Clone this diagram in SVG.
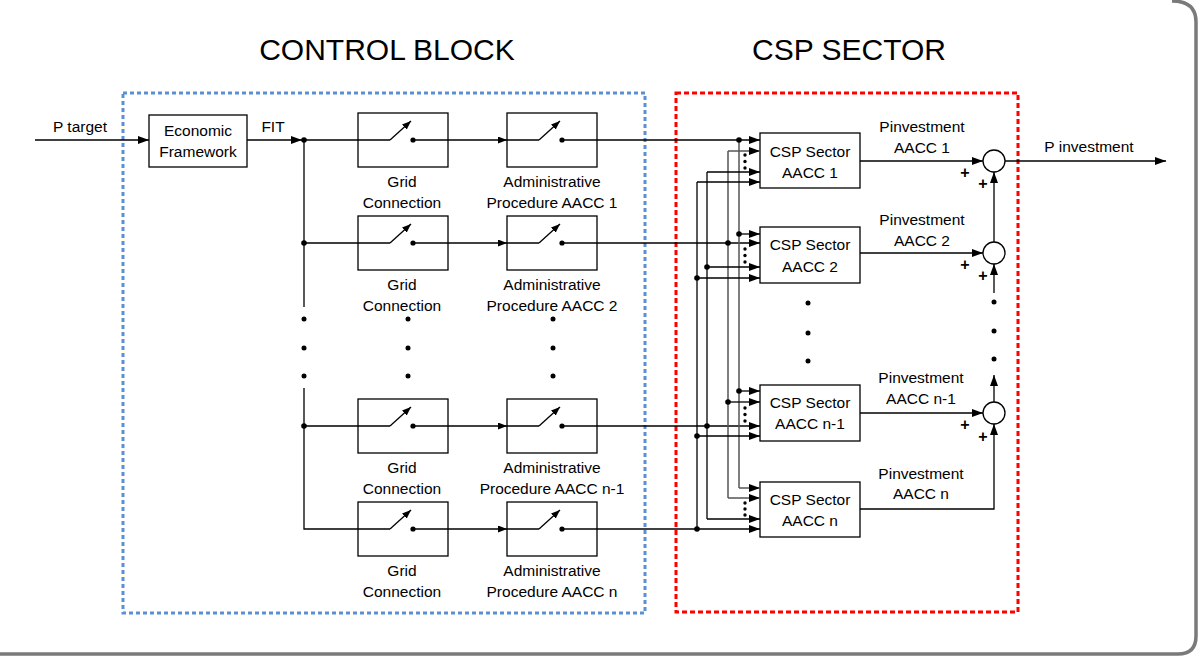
<svg xmlns="http://www.w3.org/2000/svg" width="1200" height="657" viewBox="0 0 1200 657">
<style>
.ln{stroke:#000;stroke-width:1.3;fill:none}
.gl{stroke:#555;stroke-width:1.5;fill:none}
.box{fill:#fff;stroke:#000;stroke-width:1.3}
.t{font-family:"Liberation Sans",Arial,sans-serif;font-size:15.5px;text-anchor:middle;fill:#000}
.ttl{font-family:"Liberation Sans",Arial,sans-serif;font-size:30px;text-anchor:middle;fill:#000}
.pl{font-family:"Liberation Sans",Arial,sans-serif;font-size:16px;font-weight:bold;text-anchor:middle;fill:#000}
.d{fill:#000}
</style>
<defs>
<marker id="ar" markerUnits="userSpaceOnUse" markerWidth="11" markerHeight="8" refX="11" refY="4" orient="auto"><path d="M0,0 L11,4 L0,8 z" fill="#000"/></marker>
<marker id="sa" markerUnits="userSpaceOnUse" markerWidth="9" markerHeight="7" refX="9" refY="3.5" orient="auto"><path d="M0,0 L9,3.5 L0,7 z" fill="#000"/></marker>
</defs>
<rect x="0" y="0" width="1200" height="657" fill="#fff"/>
<path d="M1172 1 Q1196 1 1196 22 V636 Q1196 654 1178 654 H0" fill="none" stroke="#7a7a7a" stroke-width="3.5"/>

<g id="titles">
<text class="ttl" x="387" y="60">CONTROL BLOCK</text>
<text class="ttl" x="849" y="60">CSP SECTOR</text>
</g>

<g id="regions">
<rect id="control-block" x="123" y="93" width="522" height="520" fill="none" stroke="#5b8fd6" stroke-width="3" stroke-dasharray="4 3"/>
<rect id="csp-sector" x="676" y="93" width="342" height="519" fill="none" stroke="#ff0000" stroke-width="3" stroke-dasharray="5 3"/>
</g>

<g id="economic-framework">
<rect class="box" x="149" y="115" width="98" height="52"/>
<text class="t" x="198" y="136">Economic</text>
<text class="t" x="198" y="157">Framework</text>
</g>

<g id="grid-1">
<rect class="box" x="358" y="113" width="90" height="54"/>
<line class="ln" x1="390" y1="140" x2="411" y2="121" marker-end="url(#sa)"/>
<circle class="d" cx="413" cy="140" r="2.6"/>
<text class="t" x="402" y="187">Grid</text><text class="t" x="402" y="208">Connection</text>
</g>
<g id="admin-1">
<rect class="box" x="507" y="113" width="90" height="54"/>
<line class="ln" x1="539" y1="140" x2="560" y2="121" marker-end="url(#sa)"/>
<circle class="d" cx="562" cy="140" r="2.6"/>
<text class="t" x="552" y="187">Administrative</text><text class="t" x="552" y="208">Procedure AACC 1</text>
</g>
<g id="grid-2">
<rect class="box" x="358" y="216" width="90" height="54"/>
<line class="ln" x1="390" y1="243" x2="411" y2="224" marker-end="url(#sa)"/>
<circle class="d" cx="413" cy="243" r="2.6"/>
<text class="t" x="402" y="290">Grid</text><text class="t" x="402" y="311">Connection</text>
</g>
<g id="admin-2">
<rect class="box" x="507" y="216" width="90" height="54"/>
<line class="ln" x1="539" y1="243" x2="560" y2="224" marker-end="url(#sa)"/>
<circle class="d" cx="562" cy="243" r="2.6"/>
<text class="t" x="552" y="290">Administrative</text><text class="t" x="552" y="311">Procedure AACC 2</text>
</g>
<g id="grid-n1">
<rect class="box" x="358" y="399" width="90" height="54"/>
<line class="ln" x1="390" y1="426" x2="411" y2="407" marker-end="url(#sa)"/>
<circle class="d" cx="413" cy="426" r="2.6"/>
<text class="t" x="402" y="473">Grid</text><text class="t" x="402" y="494">Connection</text>
</g>
<g id="admin-n1">
<rect class="box" x="507" y="399" width="90" height="54"/>
<line class="ln" x1="539" y1="426" x2="560" y2="407" marker-end="url(#sa)"/>
<circle class="d" cx="562" cy="426" r="2.6"/>
<text class="t" x="552" y="473">Administrative</text><text class="t" x="552" y="494">Procedure AACC n-1</text>
</g>
<g id="grid-n">
<rect class="box" x="358" y="502" width="90" height="54"/>
<line class="ln" x1="390" y1="529" x2="411" y2="510" marker-end="url(#sa)"/>
<circle class="d" cx="413" cy="529" r="2.6"/>
<text class="t" x="402" y="576">Grid</text><text class="t" x="402" y="597">Connection</text>
</g>
<g id="admin-n">
<rect class="box" x="507" y="502" width="90" height="54"/>
<line class="ln" x1="539" y1="529" x2="560" y2="510" marker-end="url(#sa)"/>
<circle class="d" cx="562" cy="529" r="2.6"/>
<text class="t" x="552" y="576">Administrative</text><text class="t" x="552" y="597">Procedure AACC n</text>
</g>

<g id="csp-1">
<rect class="box" x="760" y="133" width="100" height="55"/>
<text class="t" x="810" y="157">CSP Sector</text><text class="t" x="810" y="178">AACC 1</text>
</g>
<g id="csp-2">
<rect class="box" x="760" y="227" width="100" height="56"/>
<text class="t" x="810" y="250">CSP Sector</text><text class="t" x="810" y="272">AACC 2</text>
</g>
<g id="csp-n1">
<rect class="box" x="760" y="385" width="100" height="56"/>
<text class="t" x="810" y="408">CSP Sector</text><text class="t" x="810" y="429">AACC n-1</text>
</g>
<g id="csp-n">
<rect class="box" x="760" y="482" width="100" height="55"/>
<text class="t" x="810" y="505">CSP Sector</text><text class="t" x="810" y="526">AACC n</text>
</g>

<g id="sum-1"><circle cx="994" cy="161" r="11" fill="#fff" stroke="#000" stroke-width="1.3"/><text class="pl" x="965" y="178">+</text><text class="pl" x="983" y="189">+</text></g>
<g id="sum-2"><circle cx="994" cy="253" r="11" fill="#fff" stroke="#000" stroke-width="1.3"/><text class="pl" x="965" y="270">+</text><text class="pl" x="983" y="281">+</text></g>
<g id="sum-n1"><circle cx="994" cy="413" r="11" fill="#fff" stroke="#000" stroke-width="1.3"/><text class="pl" x="965" y="430">+</text><text class="pl" x="983" y="442">+</text></g>

<g id="connectors">
<path class="ln" d="M35 140 H149" marker-end="url(#ar)"/>
<path class="ln" d="M247 140 H302" marker-end="url(#ar)"/>
<path class="ln" d="M304 140 V307 M304 388 V529 H390"/>
<path class="ln" d="M304 140 H390 M304 243 H390 M304 426 H390"/>
<path class="ln" d="M413 140 H507" marker-end="url(#sa)"/>
<path class="ln" d="M413 243 H507" marker-end="url(#sa)"/>
<path class="ln" d="M413 426 H507" marker-end="url(#sa)"/>
<path class="ln" d="M413 529 H507" marker-end="url(#sa)"/>
<path class="ln" d="M507 140 H539 M507 243 H539 M507 426 H539 M507 529 H539"/>
<path class="ln" d="M562 140 H760" marker-end="url(#ar)"/>
<path class="ln" d="M562 243 H760" marker-end="url(#ar)"/>
<path class="ln" d="M562 426 H760" marker-end="url(#ar)"/>
<path class="ln" d="M562 529 H760" marker-end="url(#ar)"/>
<path class="gl" d="M739 140 V488"/>
<path class="gl" d="M739 488 H760" marker-end="url(#ar)"/>
<path class="ln" d="M739 234 H760" marker-end="url(#ar)"/>
<path class="ln" d="M739 391 H760" marker-end="url(#ar)"/>
<path class="gl" d="M728 151 V498"/>
<path class="gl" d="M728 151 H760" marker-end="url(#ar)"/>
<path class="ln" d="M728 402 H760" marker-end="url(#ar)"/>
<path class="gl" d="M728 498 H760" marker-end="url(#ar)"/>
<path class="ln" d="M707 172 V519"/>
<path class="ln" d="M707 172 H760" marker-end="url(#ar)"/>
<path class="ln" d="M707 267 H760" marker-end="url(#ar)"/>
<path class="ln" d="M707 519 H760" marker-end="url(#ar)"/>
<path class="ln" d="M697 182 V529"/>
<path class="ln" d="M697 182 H760" marker-end="url(#ar)"/>
<path class="ln" d="M697 278 H760" marker-end="url(#ar)"/>
<path class="ln" d="M697 436 H760" marker-end="url(#ar)"/>
<path class="ln" d="M860 161 H983" marker-end="url(#ar)"/>
<path class="ln" d="M860 253 H983" marker-end="url(#ar)"/>
<path class="ln" d="M860 413 H983" marker-end="url(#ar)"/>
<path class="ln" d="M860 509 H994 V424" marker-end="url(#ar)"/>
<path class="ln" d="M994 242 V172" marker-end="url(#ar)"/>
<path class="ln" d="M994 293 V264" marker-end="url(#ar)"/>
<path class="ln" d="M994 402 V375" marker-end="url(#ar)"/>
<path class="ln" d="M1005 161 H1166" marker-end="url(#ar)"/>
<g class="d">
<circle cx="304" cy="140" r="2.8"/><circle cx="304" cy="243" r="2.8"/><circle cx="304" cy="426" r="2.8"/>
<circle cx="739" cy="140" r="2.8"/><circle cx="739" cy="234" r="2.8"/><circle cx="739" cy="391" r="2.8"/>
<circle cx="728" cy="243" r="2.8"/><circle cx="728" cy="402" r="2.8"/>
<circle cx="707" cy="267" r="2.8"/><circle cx="707" cy="426" r="2.8"/>
<circle cx="697" cy="278" r="2.8"/><circle cx="697" cy="436" r="2.8"/><circle cx="697" cy="529" r="2.8"/>
</g>
</g>

<g id="ellipsis-dots" class="d">
<circle cx="304" cy="319" r="2.5"/><circle cx="304" cy="348" r="2.5"/><circle cx="304" cy="376" r="2.5"/>
<circle cx="408" cy="319" r="2.5"/><circle cx="408" cy="348" r="2.5"/><circle cx="408" cy="376" r="2.5"/>
<circle cx="553" cy="319" r="2.5"/><circle cx="553" cy="348" r="2.5"/><circle cx="553" cy="376" r="2.5"/>
<circle cx="808" cy="303" r="2.5"/><circle cx="808" cy="333" r="2.5"/><circle cx="808" cy="361" r="2.5"/>
<circle cx="994" cy="302" r="2.5"/><circle cx="994" cy="331" r="2.5"/><circle cx="994" cy="359" r="2.5"/>
<circle cx="745" cy="155" r="1.7"/><circle cx="745" cy="161.5" r="1.7"/><circle cx="745" cy="168" r="1.7"/>
<circle cx="745" cy="249" r="1.7"/><circle cx="745" cy="255.5" r="1.7"/><circle cx="745" cy="262" r="1.7"/>
<circle cx="745" cy="408" r="1.7"/><circle cx="745" cy="414.5" r="1.7"/><circle cx="745" cy="421" r="1.7"/>
<circle cx="745" cy="503" r="1.7"/><circle cx="745" cy="509" r="1.7"/><circle cx="745" cy="515" r="1.7"/>
</g>

<g id="labels">
<text class="t" x="80" y="132">P target</text>
<text class="t" x="273" y="132">FIT</text>
<text class="t" x="922" y="132">Pinvestment</text><text class="t" x="922" y="153">AACC 1</text>
<text class="t" x="922" y="225">Pinvestment</text><text class="t" x="922" y="246">AACC 2</text>
<text class="t" x="921" y="383">Pinvestment</text><text class="t" x="921" y="404">AACC n-1</text>
<text class="t" x="921" y="479">Pinvestment</text><text class="t" x="921" y="499">AACC n</text>
<text class="t" x="1089" y="152">P investment</text>
</g>
</svg>
